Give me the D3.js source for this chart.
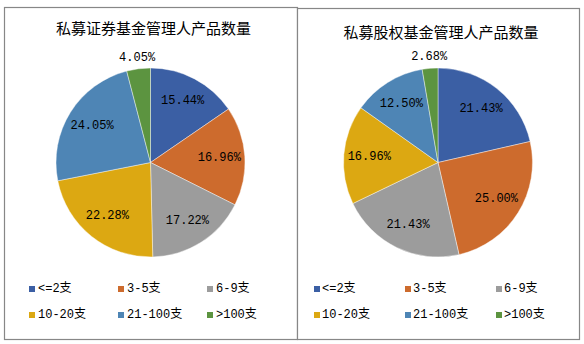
<!DOCTYPE html>
<html><head><meta charset="utf-8">
<script src="https://cdn.jsdelivr.net/npm/d3@7/dist/d3.min.js"></script>
<style>
html,body{margin:0;padding:0;background:#fff;}
svg{display:block;}
</style></head>
<body>
<script>
const categories = ["<=2支", "3-5支", "6-9支", "10-20支", "21-100支", ">100支"];
const securitiesValues = [15.44, 16.96, 17.22, 22.28, 24.05, 4.05];
const equityValues = [21.43, 25.00, 21.43, 16.96, 12.50, 2.68];
const titles = ["私募证券基金管理人产品数量", "私募股权基金管理人产品数量"];
const colors = ["#3B5FA4", "#CD6B2D", "#9C9C9C", "#DCA812", "#4E85B5", "#5C9440"];

const W = 584, H = 344;
const svg = d3.select("body").append("svg").attr("width", W).attr("height", H);

const panels = [
  {x0:4, y0:7, x1:297, y1:339, cx:150.5, cy:162.5, titleY:27, values:securitiesValues, title:titles[0],
   legX:[29,118,207], legTextGap:9},
  {x0:297, y0:8, x1:579, y1:339, cx:438, cy:162.5, titleY:31, values:equityValues, title:titles[1],
   legX:[314,405,496], legTextGap:8}
];
const R = 94.5;
const legRows = [289, 315];

const pie = d3.pie().sort(null).value(d => d);
const arc = d3.arc().innerRadius(0).outerRadius(R);
const labelArc = d3.arc().innerRadius(R*0.73).outerRadius(R*0.73);
const outArc = d3.arc().innerRadius(R+11).outerRadius(R+11);

panels.forEach(p => {
  const g = svg.append("g");
  g.append("rect").attr("x", p.x0+0.5).attr("y", p.y0+0.5)
    .attr("width", p.x1-p.x0).attr("height", p.y1-p.y0)
    .attr("fill", "#fff").attr("stroke", "#878787").attr("stroke-width", 1.2);
  g.append("text").attr("x", (p.x0+p.x1)/2+3).attr("y", p.titleY)
    .attr("text-anchor", "middle").attr("dominant-baseline", "central")
    .attr("font-family", "'Noto Sans CJK SC', sans-serif").attr("font-size", 15)
    .attr("fill", "#000").text(p.title);

  const pg = g.append("g").attr("transform", `translate(${p.cx},${p.cy})`);
  const arcs = pie(p.values);
  pg.selectAll("path").data(arcs).enter().append("path")
    .attr("d", arc).attr("fill", (d,i) => colors[i])
    .attr("stroke", "#fff").attr("stroke-width", 0.6).attr("stroke-opacity", 0.7);
  pg.selectAll("text").data(arcs).enter().append("text")
    .attr("transform", d => {
      const c = (d.data < 5 ? outArc : labelArc).centroid(d);
      return `translate(${c[0]},${c[1]})`;
    })
    .attr("text-anchor", "middle").attr("dominant-baseline", "central")
    .attr("font-family", "'Liberation Mono', 'DejaVu Sans Mono', monospace").attr("font-size", 12)
    .attr("fill", "#000").text(d => d.data.toFixed(2) + "%");

  categories.forEach((c, i) => {
    const col = i % 3, row = Math.floor(i / 3);
    const x = p.legX[col], y = legRows[row];
    g.append("rect").attr("x", x).attr("y", y-3).attr("width", 6).attr("height", 6).attr("fill", colors[i]);
    g.append("text").attr("x", x + p.legTextGap).attr("y", y)
      .attr("dominant-baseline", "central")
      .attr("font-family", "'Liberation Mono', 'Noto Sans CJK SC', monospace").attr("font-size", 12)
      .attr("fill", "#000").text(c);
  });
});
</script>
</body></html>
